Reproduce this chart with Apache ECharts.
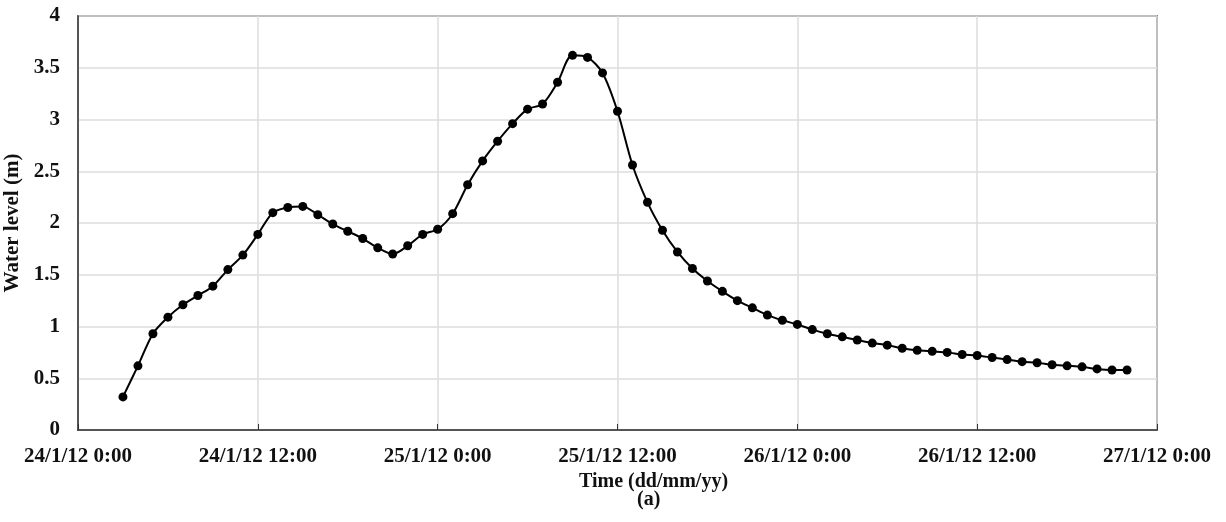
<!DOCTYPE html>
<html>
<head>
<meta charset="utf-8">
<script src="https://cdn.jsdelivr.net/npm/echarts@6/dist/echarts.min.js"></script>
<style>
html,body{margin:0;padding:0;background:#fff;}
#chart{width:1226px;height:522px;}
</style>
</head>
<body>
<div id="chart"></div>
<script>
// Hours since 24/1/12 0:00
var hours = [3,4,5,6,7,8,9,10,11,12,13,14,15,16,17,18,19,20,21,22,23,24,25,26,27,28,29,30,31,32,33,34,35,36,37,38,39,40,41,42,43,44,45,46,47,48,49,50,51,52,53,54,55,56,57,58,59,60,61,62,63,64,65,66,67,68,69,70];
var waterLevel = [0.32,0.62,0.93,1.09,1.21,1.30,1.39,1.55,1.69,1.89,2.10,2.15,2.16,2.08,1.99,1.92,1.85,1.76,1.70,1.78,1.89,1.94,2.09,2.37,2.60,2.79,2.96,3.10,3.15,3.36,3.62,3.60,3.45,3.08,2.56,2.20,1.93,1.72,1.56,1.44,1.34,1.25,1.18,1.11,1.06,1.02,0.97,0.93,0.90,0.87,0.84,0.82,0.79,0.77,0.76,0.75,0.73,0.72,0.70,0.68,0.66,0.65,0.63,0.62,0.61,0.59,0.58,0.58];
var xTickLabels = ['24/1/12 0:00','24/1/12 12:00','25/1/12 0:00','25/1/12 12:00','26/1/12 0:00','26/1/12 12:00','27/1/12 0:00'];

var font = '"Liberation Serif","Times New Roman",serif';
var points = hours.map(function(h, i){ return [h, waterLevel[i]]; });

var chart = echarts.init(document.getElementById('chart'));
chart.setOption({
  animation: false,
  backgroundColor: '#ffffff',
  grid: {
    left: 78, right: 69, top: 16, bottom: 92,
    outerBoundsMode: 'none', containLabel: false,
    show: true, borderColor: '#333', borderWidth: 1.5, backgroundColor: 'transparent'
  },
  xAxis: {
    type: 'value', min: 0, max: 72, interval: 12,
    name: 'Time (dd/mm/yy)', nameLocation: 'middle', nameGap: 35,
    nameTextStyle: { fontFamily: font, fontWeight: 'bold', fontSize: 20, color: '#111', padding: [0,0,0,72] },
    axisLine: { show: true, lineStyle: { color: '#333', width: 1.5 } },
    axisTick: { show: true, inside: true, length: 6, lineStyle: { color: '#333', width: 1 } },
    axisLabel: {
      margin: 16, fontFamily: font, fontWeight: 'bold', fontSize: 21, color: '#111',
      formatter: function(v){ return xTickLabels[Math.round(v/12)] || ''; }
    },
    splitLine: { show: true, lineStyle: { color: '#dcdcdc', width: 1.5 } }
  },
  yAxis: {
    type: 'value', min: 0, max: 4, interval: 0.5,
    name: 'Water level (m)', nameLocation: 'middle', nameGap: 45, nameRotate: 90,
    nameTextStyle: { fontFamily: font, fontWeight: 'bold', fontSize: 21, color: '#111' },
    axisLine: { show: true, lineStyle: { color: '#333', width: 1.5 } },
    axisTick: { show: false },
    axisLabel: { margin: 18, fontFamily: font, fontWeight: 'bold', fontSize: 21, color: '#111' },
    splitLine: { show: true, lineStyle: { color: '#dcdcdc', width: 1.5 } }
  },
  graphic: [{
    type: 'text', left: 637, top: 490,
    style: { text: '(a)', fontFamily: font, fontWeight: 'bold', fontSize: 20, fill: '#111' }
  }],
  series: [{
    type: 'line', data: points, smooth: 0.3,
    symbol: 'circle', symbolSize: 9,
    lineStyle: { color: '#000', width: 2 },
    itemStyle: { color: '#000' }
  }]
});
</script>
</body>
</html>
